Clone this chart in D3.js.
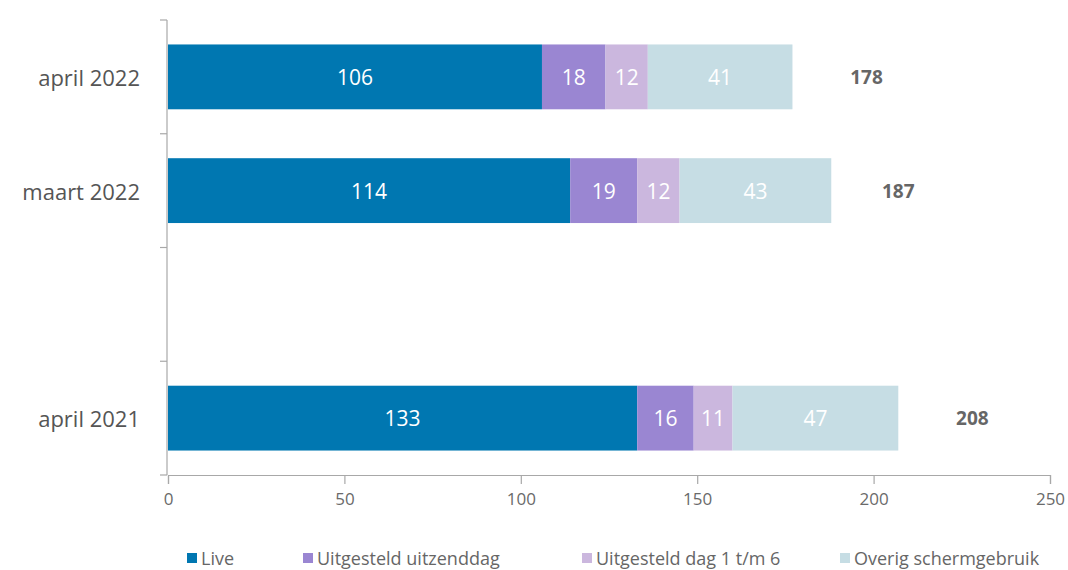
<!DOCTYPE html>
<html>
<head>
<meta charset="utf-8">
<script src="https://cdn.jsdelivr.net/npm/d3@7"></script>
<style>
  html, body { margin: 0; padding: 0; background: #fff; }
  svg { display: block; font-family: "Open Sans", "Noto Sans", sans-serif; }
</style>
</head>
<body>
<svg id="chart" width="1068" height="570"></svg>
<script>
const categories = ["april 2022", "maart 2022", "", "april 2021"];
const seriesNames = ["Live", "Uitgesteld uitzenddag", "Uitgesteld dag 1 t/m 6", "Overig schermgebruik"];
const live = [106, 114, null, 133];
const uitzenddag = [18, 19, null, 16];
const dag1t6 = [12, 12, null, 11];
const overig = [41, 43, null, 47];
const totals = [178, 187, null, 208];
const xTicks = [0, 50, 100, 150, 200, 250];
const colors = ["#0077b1", "#9a86d2", "#cbb7de", "#c6dde4"];

const svg = d3.select("#chart");
const mLeft = 168, mRight = 1050, mTop = 20, mBottom = 475;

const x = d3.scaleLinear().domain([0, 250]).range([mLeft, mRight]);
const y = d3.scaleBand().domain(categories.map((c, i) => i)).range([mTop, mBottom]).paddingInner(0.43).paddingOuter(0.215);
const yTick = d3.scaleBand().domain(categories.map((c, i) => i)).range([mTop, mBottom]);

const series = [live, uitzenddag, dag1t6, overig];

const axisColor = "#a8a8a8";
svg.append("line").attr("x1", mLeft - 1).attr("x2", mLeft - 1).attr("y1", mTop).attr("y2", mBottom)
  .attr("stroke", axisColor).attr("stroke-width", 1.2);
const boundaries = categories.map((c, i) => yTick(i)).concat([mBottom]);
svg.selectAll(".ytick").data(boundaries).enter().append("line")
  .attr("x1", mLeft - 8).attr("x2", mLeft - 1)
  .attr("y1", d => d).attr("y2", d => d)
  .attr("stroke", axisColor).attr("stroke-width", 1.2);

const xAxis = d3.axisBottom(x).tickValues(xTicks).tickSize(9).tickPadding(9).tickFormat(d3.format("d"));
const gx = svg.append("g").attr("transform", `translate(0,${mBottom})`).call(xAxis);
gx.select(".domain").attr("stroke", axisColor).attr("stroke-width", 1.2);
gx.selectAll(".tick line").attr("stroke", axisColor).attr("stroke-width", 1.2);
gx.selectAll(".tick text").attr("fill", "#6a6a6a").attr("font-size", 17).attr("font-family", "Open Sans, sans-serif");

svg.selectAll(".cat").data(categories).enter().append("text")
  .attr("x", 140).attr("y", (d, i) => yTick(i) + yTick.bandwidth() / 2)
  .attr("text-anchor", "end").attr("dominant-baseline", "central")
  .attr("fill", "#555555").attr("font-size", 22)
  .text(d => d);

categories.forEach((c, i) => {
  let acc = 0;
  series.forEach((s, k) => {
    const v = s[i];
    if (v == null) return;
    const x0 = acc, x1 = acc + v;
    acc = x1;
    svg.append("rect")
      .attr("x", x(x0)).attr("y", y(i))
      .attr("width", x(x1) - x(x0)).attr("height", y.bandwidth())
      .attr("fill", colors[k]);
    svg.append("text")
      .attr("x", (x(x0) + x(x1)) / 2).attr("y", y(i) + y.bandwidth() / 2)
      .attr("text-anchor", "middle").attr("dominant-baseline", "central")
      .attr("fill", "#ffffff").attr("font-size", 21)
      .text(v);
  });
  if (totals[i] != null) {
    svg.append("text")
      .attr("x", x(totals[i] + 20)).attr("y", y(i) + y.bandwidth() / 2)
      .attr("text-anchor", "middle").attr("dominant-baseline", "central")
      .attr("fill", "#666666").attr("font-size", 19).attr("font-weight", "bold")
      .text(totals[i]);
  }
});

const legendX = [187, 303, 582, 840];
const lg = svg.selectAll(".lg").data(seriesNames).enter().append("g")
  .attr("transform", (d, i) => `translate(${legendX[i]},558)`);
lg.append("rect").attr("x", 0).attr("y", -5).attr("width", 10).attr("height", 10)
  .attr("fill", (d, i) => colors[i]);
lg.append("text").attr("x", 14).attr("y", 0).attr("dominant-baseline", "central")
  .attr("fill", "#666666").attr("font-size", 18).text(d => d);
</script>
</body>
</html>
